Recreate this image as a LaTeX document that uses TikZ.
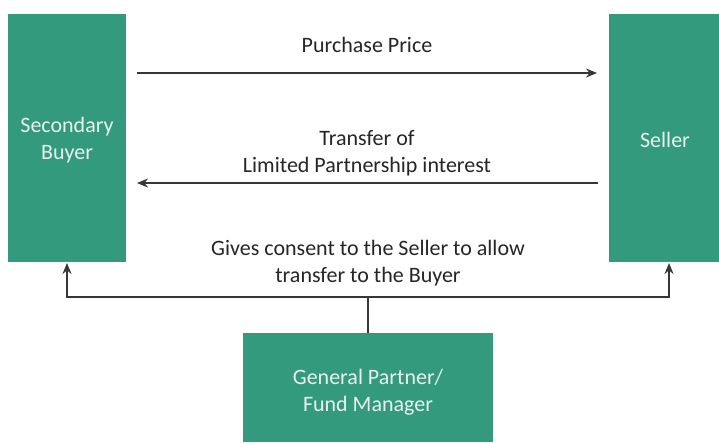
\documentclass[tikz,border=0pt]{standalone}
\usepackage{fontspec}
\setmainfont{Carlito}
\usetikzlibrary{arrows.meta}
\definecolor{teal1}{RGB}{52,154,126}
\definecolor{boxtext}{RGB}{232,242,236}
\definecolor{linecol}{RGB}{55,55,55}
\begin{document}
\begin{tikzpicture}[x=1pt,y=-1pt,
  box/.style={fill=teal1,draw=none,inner sep=0,outer sep=0},
  boxlabel/.style={text=boxtext,align=center,font=\fontsize{22}{27.5}\selectfont,inner sep=0},
  lbl/.style={text=black!85,align=center,font=\fontsize{22}{27.5}\selectfont,inner sep=0},
  conn/.style={draw=linecol,line width=2pt,-{Stealth[length=11pt,width=9pt]}},
  plain/.style={draw=linecol,line width=2pt}]
\useasboundingbox (0,0) rectangle (719,442);
\fill[white] (0,0) rectangle (719,442);
% boxes
\node[box,minimum width=118,minimum height=248,anchor=north west] (buyer) at (8,14) {};
\node[box,minimum width=110,minimum height=248,anchor=north west] (seller) at (609,14) {};
\node[box,minimum width=250,minimum height=109,anchor=north west] (gp) at (243,333) {};
\node[boxlabel] (buyertxt) at (67,140) {Secondary\\Buyer};
\node[boxlabel] (sellertxt) at (665,140) {Seller};
\node[boxlabel] (gptxt) at (368,392) {General Partner/\\Fund Manager};
% labels
\node[lbl] (pp) at (367,45) {Purchase Price};
\node[lbl] (tr) at (367,153) {Transfer of\\Limited Partnership interest};
\node[lbl] (gc) at (368,263) {Gives consent to the Seller to allow\\transfer to the Buyer};
% arrows
\coordinate (a1s) at (137,73);
\coordinate (a1e) at (597,73);
\coordinate (a2s) at (598,183);
\coordinate (a2e) at (137,183);
\draw[conn] (a1s) -- (a1e);
\draw[conn] (a2s) -- (a2e);
\coordinate (j) at (368,297);
\draw[plain] (gp.north -| j) -- (j);
\draw[conn] (j) -- (67,297) -- (67,263);
\draw[conn] (j) -- (669,297) -- (669,263);
\end{tikzpicture}
\end{document}
